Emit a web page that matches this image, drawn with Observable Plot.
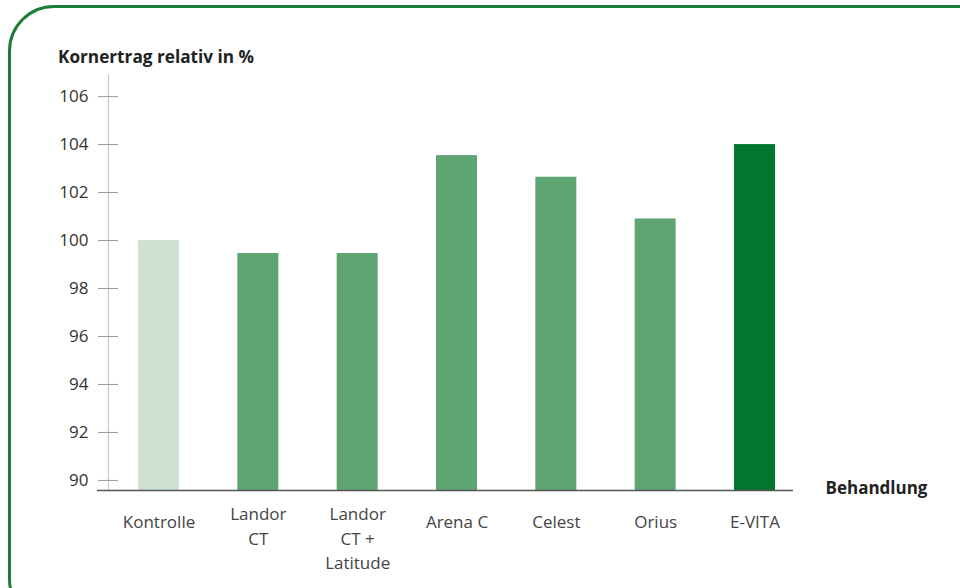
<!DOCTYPE html>
<html>
<head>
<meta charset="utf-8">
<script src="https://cdn.jsdelivr.net/npm/d3@7"></script>
<script src="https://cdn.jsdelivr.net/npm/@observablehq/plot@0.6"></script>
<style>
  html, body { margin: 0; padding: 0; background: #fff; overflow: hidden; }
  #wrap { position: relative; width: 960px; height: 588px; overflow: hidden; font-family: "Open Sans", sans-serif; }
  #border { position: absolute; left: 8px; top: 5px; width: 1010px; height: 620px; border: 3px solid #1b7d3a; border-radius: 46px; box-sizing: border-box; }
  #title { position: absolute; left: 58px; top: 45px; font-size: 17.2px; font-weight: 700; color: #222; }
  #chart { position: absolute; left: 0; top: 0; }
</style>
</head>
<body>
<div id="wrap">
  <div id="border"></div>
  <div id="chart"></div>
  <div id="title">Kornertrag relativ in %</div>
</div>
<script>
const categories = ["Kontrolle", "Landor CT", "Landor CT + Latitude", "Arena C", "Celest", "Orius", "E-VITA"];
const labels = ["Kontrolle", "Landor\nCT", "Landor\nCT +\nLatitude", "Arena C", "Celest", "Orius", "E-VITA"];
const values = [100, 99.46, 99.46, 103.54, 102.64, 100.9, 104];
const colors = ["#cde1d2", "#5fa473", "#5fa473", "#5fa473", "#5fa473", "#5fa473", "#00762f"];
const yTicks = [90, 92, 94, 96, 98, 100, 102, 104, 106];
const yMin = 89.58;
const yMax = 106.88;
const xLabel = "Behandlung";

const data = categories.map((c, i) => ({ cat: c, label: labels[i], value: values[i], color: colors[i] }));
const multi = data.filter(d => d.label.includes("\n"));
const single = data.filter(d => !d.label.includes("\n"));

const chart = Plot.plot({
  width: 960,
  height: 588,
  marginLeft: 97,
  marginRight: 167,
  marginTop: 75,
  marginBottom: 98,
  style: { fontFamily: "Open Sans, sans-serif", fontSize: "17px", color: "#333", background: "transparent" },
  x: { domain: categories, paddingInner: 0.5872, paddingOuter: 0.297, align: 0.695, round: false, axis: null },
  y: { domain: [yMin, yMax], axis: null },
  marks: [
    Plot.frame({ anchor: "left", dx: 11, stroke: "#c8c8c8", strokeWidth: 1.2 }),
    Plot.axisY({ ticks: yTicks, tickSize: 20, dx: 21, tickPadding: 10, stroke: "#9a9a9a", fill: "#333", fontSize: 17, label: null }),
    Plot.barY(data, { x: "cat", y1: yMin, y2: "value", fill: "color" }),
    Plot.ruleY([yMin], { stroke: "#555", strokeWidth: 1.5 }),
    Plot.text(multi, { x: "cat", text: "label", frameAnchor: "bottom", dy: 12, lineAnchor: "top", lineHeight: 1.45, fill: "#444", fontSize: 17 }),
    Plot.text(single, { x: "cat", text: "label", frameAnchor: "bottom", dy: 32, lineAnchor: "middle", fill: "#444", fontSize: 17 }),
    Plot.text([xLabel], { frameAnchor: "bottom-right", dx: 32, dy: 3, textAnchor: "start", fontWeight: 700, fill: "#222", fontSize: 17 })
  ]
});
document.getElementById("chart").appendChild(chart);
</script>
</body>
</html>
